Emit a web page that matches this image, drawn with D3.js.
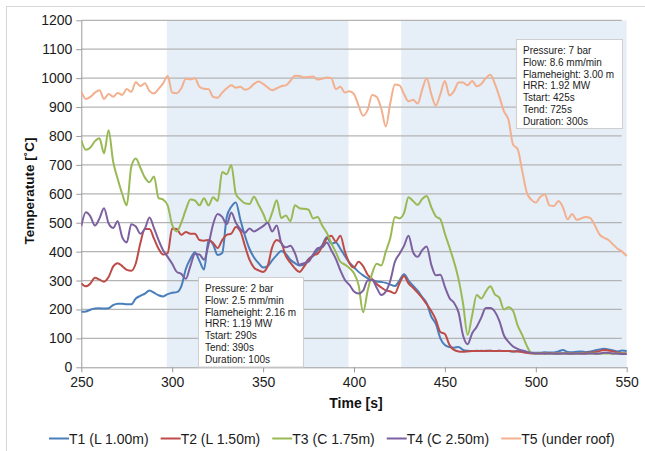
<!DOCTYPE html>
<html lang="en">
<head>
<meta charset="UTF-8">
<title>Temperatures</title>
<script src="https://d3js.org/d3.v7.min.js"></script>
<style>
  body { margin: 0; background: #fff; }
  svg { display: block; font-family: "Liberation Sans", Arial, sans-serif; }
  .axis path, .axis line { stroke: #9a9a9a; }
  .axis text { font-size: 14px; fill: #1c1c1c; font-family: "Liberation Sans", Arial, sans-serif; }
</style>
</head>
<body>
<div id="chart"></div>
<script>
// time stamps (s)
const times = [
  250, 252.5, 255, 257.5, 260, 262.5, 265, 267.5, 270, 272.5,
  275, 277.5, 280, 282.5, 285, 287.5, 290, 292.5, 295, 297.5,
  300, 302.5, 305, 307.5, 310, 312.5, 315, 317.5, 320, 322.5,
  325, 327.5, 330, 332.5, 335, 337.5, 340, 342.5, 345, 347.5,
  350, 352.5, 355, 357.5, 360, 362.5, 365, 367.5, 370, 372.5,
  375, 377.5, 380, 382.5, 385, 387.5, 390, 392.5, 395, 397.5,
  400, 402.5, 405, 407.5, 410, 412.5, 415, 417.5, 420, 422.5,
  425, 427.5, 430, 432.5, 435, 437.5, 440, 442.5, 445, 447.5,
  450, 452.5, 455, 457.5, 460, 462.5, 465, 467.5, 470, 472.5,
  475, 477.5, 480, 482.5, 485, 487.5, 490, 492.5, 495, 497.5,
  500, 502.5, 505, 507.5, 510, 512.5, 515, 517.5, 520, 522.5,
  525, 527.5, 530, 532.5, 535, 537.5, 540, 542.5, 545, 547.5,
  550
];

const t1 = [
  192, 193, 199, 203, 204, 203, 204, 215, 220, 220,
  218, 218, 238, 247, 255, 266, 258, 249, 245, 253,
  258, 260, 280, 340, 375, 398, 368, 338, 440, 425,
  388, 395, 520, 555, 570, 510, 455, 410, 380, 360,
  345, 350, 370, 388, 402, 392, 372, 360, 352, 355,
  375, 385, 405, 422, 450, 428, 432, 410, 385, 362,
  346, 330, 318, 308, 302, 297, 295, 292, 286, 281,
  300, 322, 300, 282, 265, 243, 222, 175, 150, 100,
  77, 70, 68, 70, 60, 57, 56, 57, 56, 57,
  57, 56, 57, 56, 56, 55, 56, 54, 52, 50,
  50, 50, 52, 51, 51, 55, 60, 53, 52, 54,
  55, 52, 55, 58, 62, 64, 62, 58, 55, 58,
  56
];

const t2 = [
  290, 280, 290, 310, 303, 296, 312, 348, 360, 350,
  337, 334, 360, 430, 478, 478, 445, 410, 390, 395,
  480, 478, 458, 468, 462, 462, 440, 438, 440, 430,
  412, 440, 458, 462, 485, 470, 420, 372, 345, 335,
  330, 350, 415, 440, 430, 385, 362, 342, 330, 348,
  372, 387, 393, 418, 445, 455, 435, 455, 400, 360,
  345, 365, 350, 320, 305, 288, 276, 266, 262, 256,
  290, 316, 290, 275, 258, 240, 218, 195, 165, 122,
  115, 78, 60, 55, 54, 55, 56, 56, 57, 56,
  57, 56, 57, 56, 56, 55, 55, 53, 50, 48,
  48, 49, 49, 48, 49, 48, 48, 49, 48, 48,
  49, 50, 51, 52, 56, 60, 58, 55, 50, 49,
  48
];

const t3 = [
  785, 752, 760, 782, 792, 740, 820, 712, 652, 600,
  560, 694, 722, 690, 656, 640, 660, 585, 580, 560,
  492, 470, 500, 545, 580, 577, 560, 585, 560, 588,
  575, 675, 668, 700, 600, 580, 567, 565, 590, 562,
  532, 500, 535, 578, 516, 525, 505, 560, 550, 548,
  545, 515, 520, 490, 465, 430, 398, 365, 355, 343,
  325, 285, 190, 265, 325, 358, 352, 400, 448, 520,
  515, 533, 588, 575, 562, 582, 592, 554, 522, 512,
  462, 415, 365, 305, 220, 112, 180, 250, 238, 262,
  280, 252, 240, 200, 208, 195, 145, 112, 75, 50,
  48, 48, 48, 47, 48, 47, 48, 48, 47, 48,
  48, 47, 48, 48, 47, 48, 48, 47, 48, 48,
  47
];

const t4 = [
  488, 536, 522, 490, 515, 550, 498, 482, 505, 450,
  432, 495, 487, 462, 480, 518, 481, 440, 405, 382,
  358, 330, 323, 306, 350, 392, 390, 372, 425, 495,
  530, 520, 495, 535, 500, 478, 465, 480, 470, 478,
  488, 500, 470, 490, 430, 415, 420, 395, 355, 360,
  365, 390, 412, 415, 432, 405, 375, 335, 302, 285,
  262, 255, 265, 300, 302, 275, 250, 262, 300, 365,
  392, 420, 455, 398, 382, 405, 418, 355, 318, 320,
  278, 240, 223, 190, 110, 80, 118, 140, 172, 205,
  205, 192, 160, 110, 88, 72, 64, 58, 54, 50,
  48, 48, 47, 48, 47, 47, 48, 47, 47, 48,
  47, 47, 48, 47, 48, 50, 50, 48, 47, 46,
  46
];

const t5 = [
  953, 928, 935, 950, 958, 928, 945, 936, 949, 942,
  962, 953, 986, 973, 982, 955, 947, 963, 982, 1007,
  950, 948, 965, 998, 996, 1000, 970, 963, 962, 935,
  932, 950, 965, 975, 967, 970, 960, 965, 980, 988,
  980, 968, 958, 965, 972, 975, 990, 1008, 1007, 1003,
  1004, 1006, 995, 998, 1002, 1000, 962, 970, 950, 955,
  945, 905, 870, 890, 942, 935, 895, 833, 915, 978,
  975, 945, 920, 925, 912, 960, 1000, 945, 905, 945,
  990, 940, 955, 985, 985, 975, 990, 972, 980, 1000,
  1012, 980, 935, 885, 855, 770, 755, 680, 605, 580,
  570, 590, 598, 560, 558, 575, 552, 512, 530, 510,
  515, 520, 516, 490, 460, 448, 440, 425, 410, 400,
  385
];

const seriesNames = ["T1 (L 1.00m)", "T2 (L 1.50m)", "T3 (C 1.75m)", "T4 (C 2.50m)", "T5 (under roof)"];
const seriesValues = [t1, t2, t3, t4, t5];
const seriesColors = ["#4a7ebb", "#be4b48", "#98b954", "#7d60a0", "#f3b08f"];

const xTicks = [250, 300, 350, 400, 450, 500, 550];
const yTicks = [0, 100, 200, 300, 400, 500, 600, 700, 800, 900, 1000, 1100, 1200];

// shaded test periods (s)
const bands = [[297, 397], [426, 550]];

const note1 = ["Pressure: 2 bar", "Flow: 2.5 mm/min", "Flameheight: 2.16 m", "HRR: 1.19 MW",
               "Tstart: 290s", "Tend: 390s", "Duration: 100s"];
const note2 = ["Pressure: 7 bar", "Flow: 8.6 mm/min", "Flameheight: 3.00 m", "HRR: 1.92 MW",
               "Tstart: 425s", "Tend: 725s", "Duration: 300s"];

const width = 645;
const height = 451;
const plot = { left: 81.3, right: 626.7, top: 20.3, bottom: 367.3 };

const svg = d3.select("#chart")
  .append("svg")
  .attr("width", width)
  .attr("height", height);

// outer frame
svg.append("rect")
  .attr("x", 6.5).attr("y", 6.5)
  .attr("width", 700).attr("height", 500)
  .attr("fill", "none")
  .attr("stroke", "#d6d6d6");

const x = d3.scaleLinear().domain([250, 550]).range([plot.left, plot.right]);
const y = d3.scaleLinear().domain([0, 1200]).range([plot.bottom, plot.top]);

// shaded periods
svg.append("g")
  .selectAll("rect")
  .data(bands)
  .join("rect")
  .attr("x", d => x(d[0]))
  .attr("y", y(1200))
  .attr("width", d => x(d[1]) - x(d[0]))
  .attr("height", y(0) - y(1200))
  .attr("fill", "#e6eef7");

// grid
svg.append("g")
  .selectAll("line")
  .data(yTicks.filter(d => d > 0))
  .join("line")
  .attr("x1", plot.left)
  .attr("x2", plot.right - 5)
  .attr("y1", d => y(d))
  .attr("y2", d => y(d))
  .attr("stroke", "#b4b4b4")
  .attr("stroke-width", 1.2);

// axes
svg.append("g")
  .attr("class", "axis")
  .attr("transform", `translate(${plot.left},0)`)
  .call(d3.axisLeft(y).tickValues(yTicks).tickFormat(d3.format("d"))
    .tickSize(5).tickSizeOuter(0).tickPadding(4));

svg.append("g")
  .attr("class", "axis")
  .attr("transform", `translate(0,${plot.bottom})`)
  .call(d3.axisBottom(x).tickValues(xTicks).tickFormat(d3.format("d"))
    .tickSize(5).tickSizeOuter(0).tickPadding(5));

// clip for the lines
svg.append("clipPath").attr("id", "clip")
  .append("rect")
  .attr("x", plot.left).attr("y", plot.top - 5)
  .attr("width", plot.right - plot.left + 2)
  .attr("height", plot.bottom - plot.top + 5);

const line = d3.line()
  .x(d => x(d[0]))
  .y(d => y(d[1]))
  .curve(d3.curveMonotoneX);

svg.append("g")
  .attr("clip-path", "url(#clip)")
  .selectAll("path")
  .data(seriesValues)
  .join("path")
  .attr("d", vals => line(times.map((t, i) => [t, vals[i]])))
  .attr("fill", "none")
  .attr("stroke", (_, i) => seriesColors[i])
  .attr("stroke-width", 2)
  .attr("stroke-linejoin", "round");

// axis titles
svg.append("text")
  .attr("x", 356).attr("y", 408)
  .attr("text-anchor", "middle")
  .attr("font-size", 14).attr("font-weight", "bold")
  .attr("fill", "#111")
  .text("Time [s]");

svg.append("text")
  .attr("transform", "translate(34,191) rotate(-90)")
  .attr("text-anchor", "middle")
  .attr("font-size", 13.5).attr("font-weight", "bold")
  .attr("fill", "#111")
  .text("Temperatute [˚C]");

// annotation boxes
function noteBox(lines, bx, by, bw, bh) {
  const g = svg.append("g");
  g.append("rect")
    .attr("x", bx).attr("y", by)
    .attr("width", bw).attr("height", bh)
    .attr("fill", "#fff")
    .attr("stroke", "#cfcfcf");
  g.selectAll("text")
    .data(lines)
    .join("text")
    .attr("x", bx + 6.5)
    .attr("y", (_, i) => by + 14.5 + i * 11.75)
    .attr("font-size", 10)
    .attr("fill", "#222")
    .text(d => d);
}
noteBox(note1, 198.5, 277.5, 105, 89.5);
noteBox(note2, 516.5, 39.5, 106, 89);

// legend
const legend = svg.append("g");
let lx = 49;
seriesNames.forEach((name, i) => {
  legend.append("line")
    .attr("x1", lx).attr("x2", lx + 20)
    .attr("y1", 438.5).attr("y2", 438.5)
    .attr("stroke", seriesColors[i])
    .attr("stroke-width", 2);
  const txt = legend.append("text")
    .attr("x", lx + 20)
    .attr("y", 443.5)
    .attr("font-size", 14)
    .attr("fill", "#1c1c1c")
    .text(name);
  lx += 20 + txt.node().getComputedTextLength() + 12;
});
</script>
</body>
</html>
